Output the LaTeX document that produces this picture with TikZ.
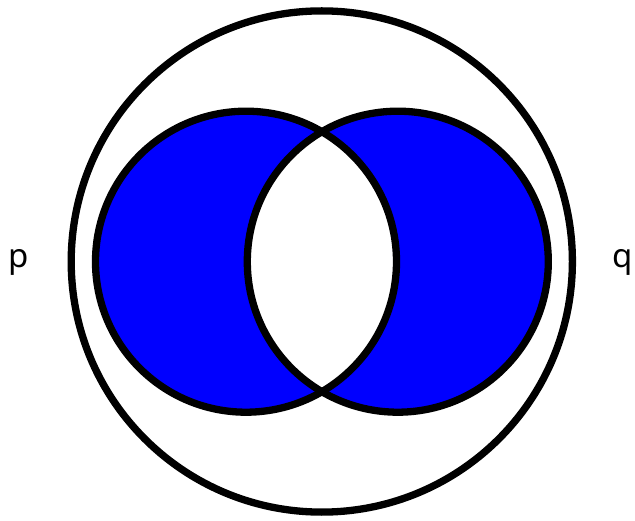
\documentclass[tikz,border=0pt]{standalone}
\usepackage{fontspec}
\setmainfont{Noto Sans}
\begin{document}
\begin{tikzpicture}[x=1pt,y=-1pt,
  ring/.style={line width=7.3pt,draw=black},
  lbl/.style={font=\fontsize{33}{38}\selectfont,inner sep=0pt}]
\useasboundingbox (0,0) rectangle (635,521);
\coordinate (O) at (321.8,261.5);
\coordinate (L) at (246,261.7);
\coordinate (R) at (397.8,261.7);
\fill[blue,even odd rule] (L) circle[radius=150.5] (R) circle[radius=150.5];
\draw[ring] (O) circle[radius=250.6];
\draw[ring] (L) circle[radius=150.5];
\draw[ring] (R) circle[radius=150.5];
\node[lbl] (p) at (19,262) {p};
\node[lbl] (q) at (623,262) {q};
\end{tikzpicture}
\end{document}
